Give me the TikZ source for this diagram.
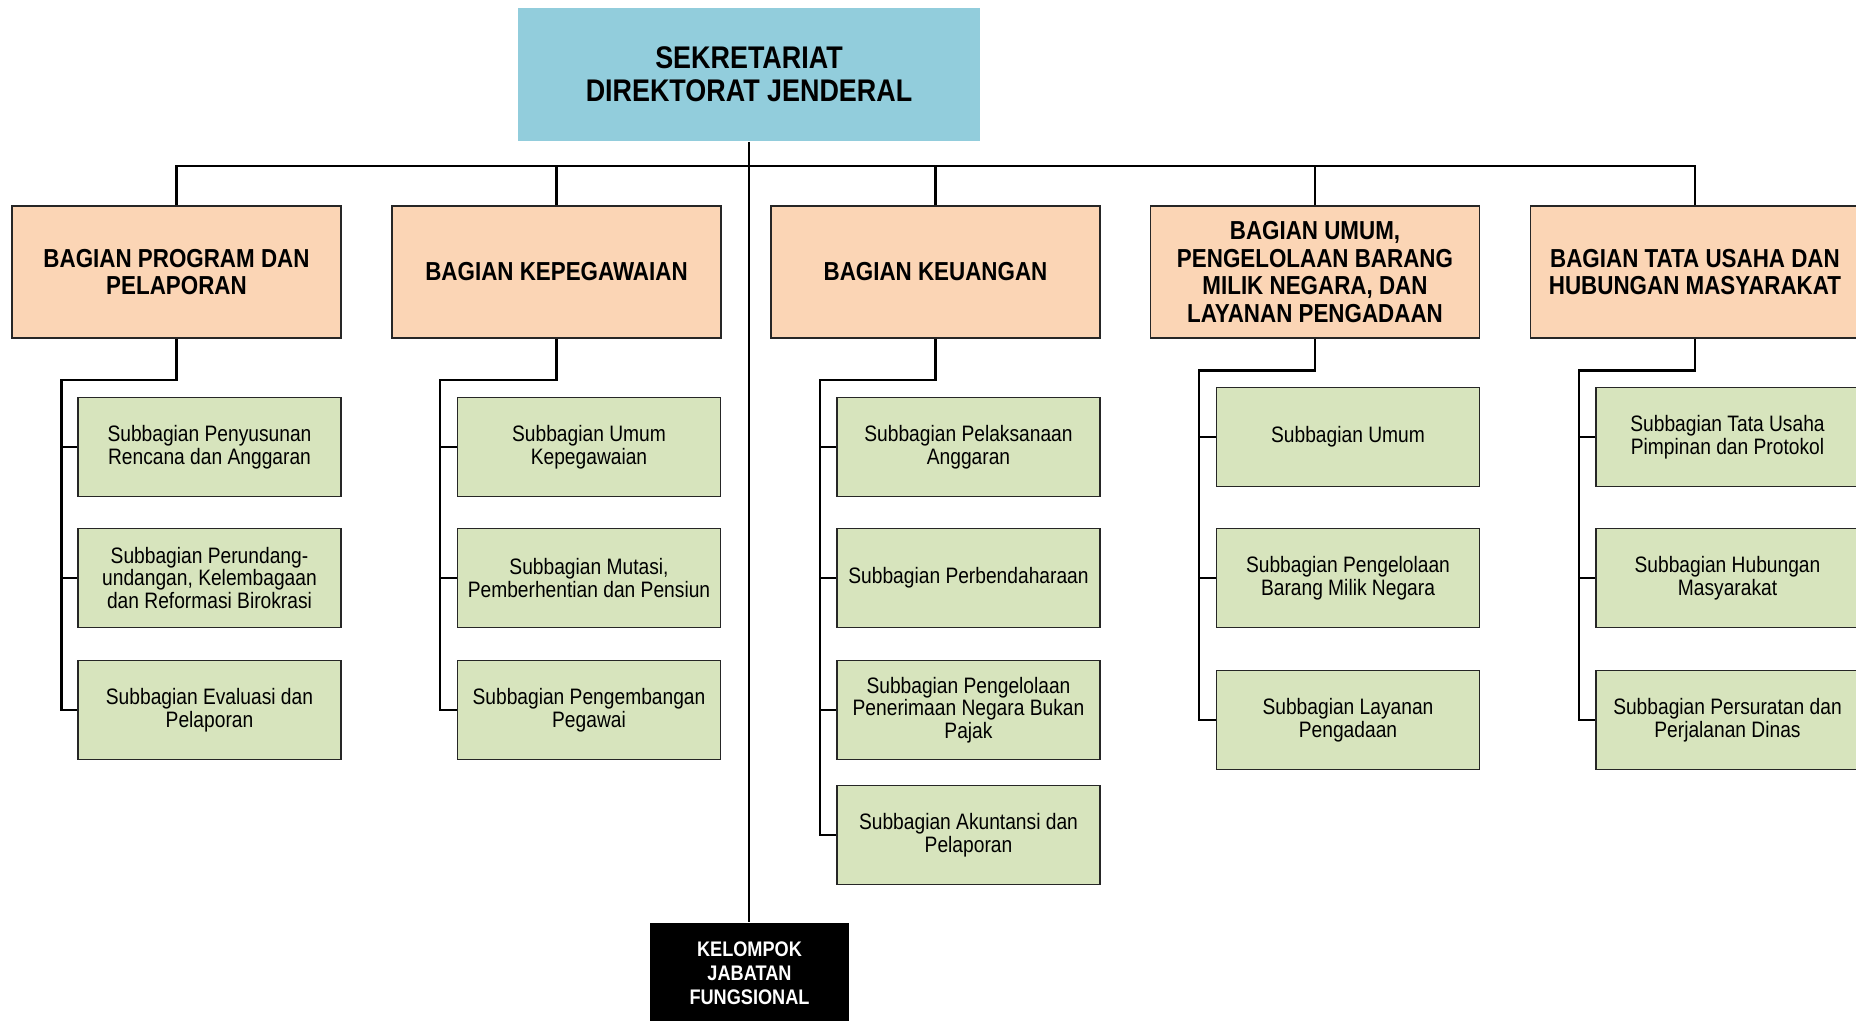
\documentclass[tikz,border=0pt]{standalone}
\usepackage{fontspec}
\setmainfont{Liberation Sans}[FakeStretch=0.86]
\usepackage{tikz}
\usetikzlibrary{positioning, calc}

\definecolor{sekblue}{HTML}{92CDDC}
\definecolor{bagpeach}{HTML}{FBD5B5}
\definecolor{subgreen}{HTML}{D7E4BD}

\begin{document}
\begin{tikzpicture}[x=0.01cm, y=-0.01cm,
    sekbox/.style={fill=sekblue, minimum width=4.62cm, minimum height=1.33cm, inner sep=0pt,
        align=center, font=\fontsize{8.9}{9.3}\selectfont\bfseries},
    bagbox/.style={draw=black!85, line width=0.5pt, fill=bagpeach, minimum width=3.29cm,
        minimum height=1.32cm, inner sep=0pt, align=center, font=\fontsize{7.4}{7.9}\selectfont\bfseries},
    subbox/.style={draw=black!85, line width=0.45pt, fill=subgreen, minimum width=2.63cm,
        minimum height=0.99cm, inner sep=0pt, align=center, font=\fontsize{6.35}{6.4}\selectfont},
    kjfbox/.style={fill=black, text=white, minimum width=1.99cm, minimum height=1.0cm,
        inner sep=0pt, align=center, font=\fontsize{6}{6.8}\selectfont\bfseries},
    link/.style={line width=0.6pt},
    tick/.style={line width=0.45pt}]
    \useasboundingbox (0,0) rectangle (1856,1020);

    % Sekretariat
    \node[sekbox] (sek) at (749,74.5) {SEKRETARIAT\\DIREKTORAT JENDERAL};

    % Bagian
    \node[bagbox] (bag1) at (176.5,272) {BAGIAN PROGRAM DAN\\PELAPORAN};
    \node[bagbox] (bag2) at (556.5,272) {BAGIAN KEPEGAWAIAN};
    \node[bagbox] (bag3) at (935.5,272) {BAGIAN KEUANGAN};
    \node[bagbox] (bag4) at (1315,272) {BAGIAN UMUM,\\PENGELOLAAN BARANG\\MILIK NEGARA, DAN\\LAYANAN PENGADAAN};
    \node[bagbox] (bag5) at (1695,272) {BAGIAN TATA USAHA DAN\\HUBUNGAN MASYARAKAT};

    % Kelompok jabatan fungsional
    \node[kjfbox] (kjf) at (749.5,973) {KELOMPOK\\JABATAN\\FUNGSIONAL};

    % Subbagian program dan pelaporan
    \node[subbox] (sub11) at (209.5,447) {Subbagian Penyusunan\\Rencana dan Anggaran};
    \node[subbox] (sub12) at (209.5,578) {Subbagian Perundang-\\undangan, Kelembagaan\\dan Reformasi Birokrasi};
    \node[subbox] (sub13) at (209.5,710) {Subbagian Evaluasi dan\\Pelaporan};

    % Subbagian kepegawaian
    \node[subbox] (sub21) at (589,447) {Subbagian Umum\\Kepegawaian};
    \node[subbox] (sub22) at (589,578) {Subbagian Mutasi,\\Pemberhentian dan Pensiun};
    \node[subbox] (sub23) at (589,710) {Subbagian Pengembangan\\Pegawai};

    % Subbagian keuangan
    \node[subbox] (sub31) at (968.5,447) {Subbagian Pelaksanaan\\Anggaran};
    \node[subbox] (sub32) at (968.5,578) {Subbagian Perbendaharaan};
    \node[subbox] (sub33) at (968.5,710) {Subbagian Pengelolaan\\Penerimaan Negara Bukan\\Pajak};
    \node[subbox] (sub34) at (968.5,835) {Subbagian Akuntansi dan\\Pelaporan};

    % Subbagian umum, BMN dan layanan pengadaan
    \node[subbox] (sub41) at (1348,437) {Subbagian Umum};
    \node[subbox] (sub42) at (1348,578) {Subbagian Pengelolaan\\Barang Milik Negara};
    \node[subbox] (sub43) at (1348,720) {Subbagian Layanan\\Pengadaan};

    % Subbagian tata usaha dan humas
    \node[subbox] (sub51) at (1727.5,437) {Subbagian Tata Usaha\\Pimpinan dan Protokol};
    \node[subbox] (sub52) at (1727.5,578) {Subbagian Hubungan\\Masyarakat};
    \node[subbox] (sub53) at (1727.5,720) {Subbagian Persuratan dan\\Perjalanan Dinas};

    % Bus to the Bagian
    \coordinate (bus) at (749,166);
    \draw[line width=0.7pt] (sek.south) -- (sek.south |- kjf.north);
    \draw[link] (bag1.north) |- (bus) -| (bag5.north);
    \draw[link] (bag2.north) -- (bag2.north |- bus);
    \draw[link] (bag3.north) -- (bag3.north |- bus);
    \draw[link] (bag4.north) -- (bag4.north |- bus);

    % Spines to the Subbagian
    \coordinate (sp1) at (61.5,380);
    \coordinate (sp2) at (440,380);
    \coordinate (sp3) at (820,380);
    \coordinate (sp4) at (1199,370.5);
    \coordinate (sp5) at (1579,370.5);
    \draw[link] (bag1.south) |- (sp1) |- (sub13.west);
    \draw[link] (bag2.south) |- (sp2) |- (sub23.west);
    \draw[link] (bag3.south) |- (sp3) |- (sub34.west);
    \draw[link] (bag4.south) |- (sp4) |- (sub43.west);
    \draw[link] (bag5.south) |- (sp5) |- (sub53.west);

    \draw[tick] (sub11.west) -- (sub11.west -| sp1);
    \draw[tick] (sub12.west) -- (sub12.west -| sp1);
    \draw[tick] (sub21.west) -- (sub21.west -| sp2);
    \draw[tick] (sub22.west) -- (sub22.west -| sp2);
    \draw[tick] (sub31.west) -- (sub31.west -| sp3);
    \draw[tick] (sub32.west) -- (sub32.west -| sp3);
    \draw[tick] (sub33.west) -- (sub33.west -| sp3);
    \draw[tick] (sub41.west) -- (sub41.west -| sp4);
    \draw[tick] (sub42.west) -- (sub42.west -| sp4);
    \draw[tick] (sub51.west) -- (sub51.west -| sp5);
    \draw[tick] (sub52.west) -- (sub52.west -| sp5);
\end{tikzpicture}
\end{document}
